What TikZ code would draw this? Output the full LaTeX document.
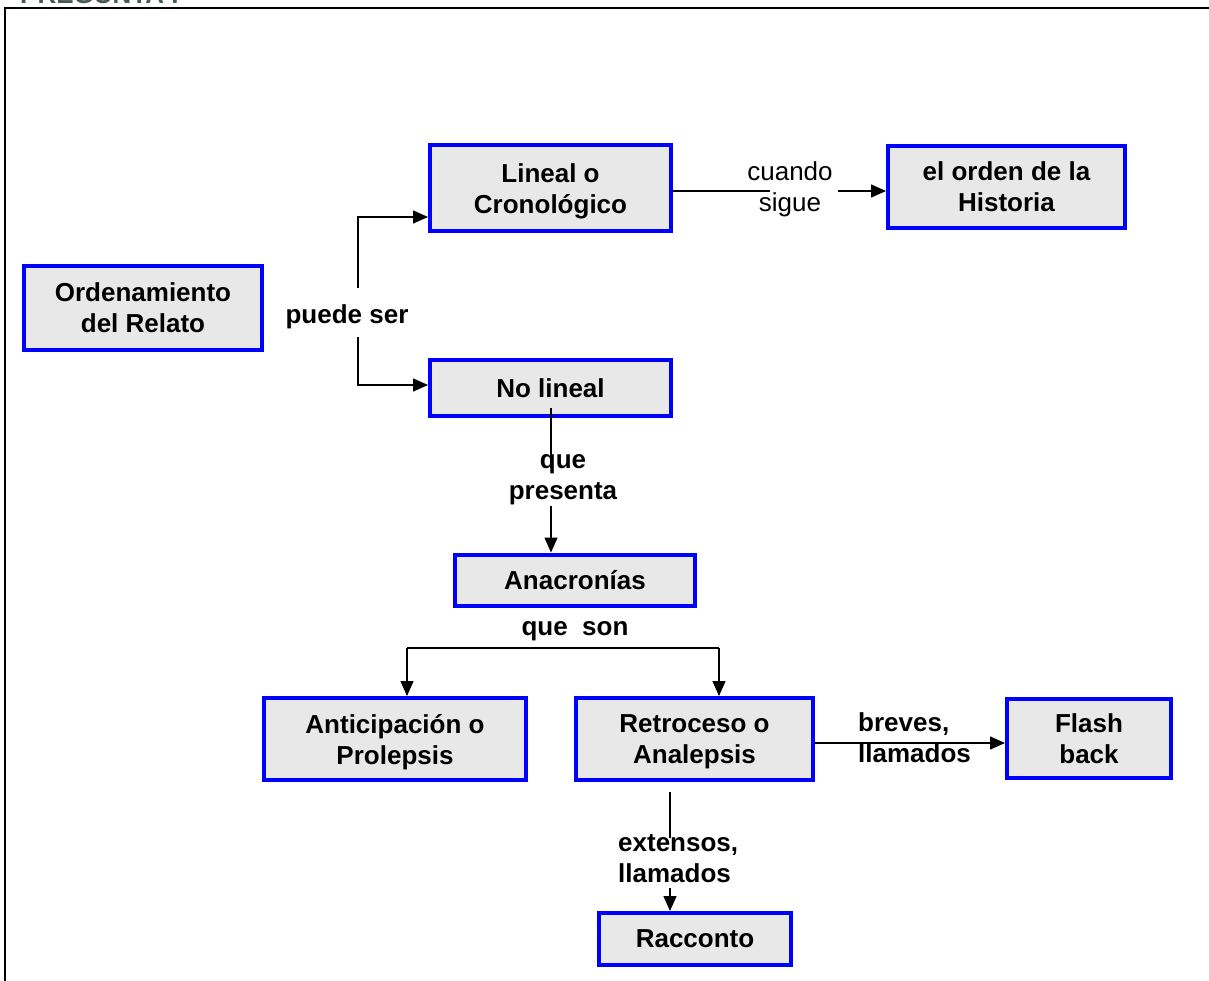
\documentclass[tikz,border=0pt]{standalone}
\usepackage{fontspec}
\setmainfont{Liberation Sans}
\usetikzlibrary{arrows.meta}
\definecolor{boxgray}{RGB}{232,232,232}
\definecolor{boxblue}{RGB}{0,0,255}
\definecolor{titlegray}{RGB}{70,90,90}
\begin{document}
\begin{tikzpicture}[x=1pt,y=-1pt,
  box/.style={draw=boxblue, line width=4pt, fill=boxgray, align=center,
    font=\fontsize{26}{31}\selectfont\bfseries, inner sep=0pt},
  lbl/.style={align=center, font=\fontsize{26}{31}\selectfont\bfseries, inner sep=0pt},
  lblreg/.style={align=center, font=\fontsize{26}{31}\selectfont, inner sep=0pt},
  conn/.style={line width=1.5pt},
  arr/.style={conn, -{Triangle[length=15pt,width=13pt]}}]
\useasboundingbox (0,0) rectangle (1209,981);
\clip (0,0) rectangle (1209,981);
\fill[white] (0,0) rectangle (1209,981);

% frame and cut title
\draw[line width=2pt] (5,995) -- (5,8) -- (1220,8);
\node[anchor=base west, inner sep=0pt, text=titlegray,
  font=\fontsize{26}{31}\selectfont\bfseries] (preg) at (20,4) {PREGUNTA I};

% boxes
\node[box, minimum width=238pt, minimum height=84pt] (orden) at (143,308) {Ordenamiento\\del Relato};
\node[box, minimum width=241pt, minimum height=86pt, text depth=0pt] (lineal) at (550.5,188.5) {Lineal o\\Cronológico};
\node[box, minimum width=237pt, minimum height=82pt] (hist) at (1006.5,187) {el orden de la\\Historia};
\node[box, minimum width=241pt, minimum height=56pt] (nolin) at (550.5,388) {No lineal};
\node[box, minimum width=240pt, minimum height=51pt] (anac) at (575,580) {Anacronías};
\node[box, minimum width=262pt, minimum height=82pt, text depth=0pt] (antic) at (395,739) {Anticipación o\\Prolepsis};
\node[box, minimum width=237pt, minimum height=82pt, text depth=0pt] (retro) at (694.5,739) {Retroceso o\\Analepsis};
\node[box, minimum width=164pt, minimum height=79pt] (flash) at (1089,738.5) {Flash\\back};
\node[box, minimum width=192pt, minimum height=52pt] (racc) at (695,939) {Racconto};

% labels
\node[lbl] (puede) at (347,317) {puede ser};
\node[lblreg] (cuando) at (790,189) {cuando\\sigue};
\node[lbl] (presenta) at (563,480) {que\\presenta};
\node[lbl] (son) at (575,631) {que\ \ son};

% puede ser -> Lineal / No lineal
\coordinate (psup) at (358,288);
\coordinate (psdn) at (358,337);
\draw[arr] (psup) |- (lineal.west |- 0,217);
\draw[arr] (psdn) |- (nolin.west |- 0,385);

% Lineal -> Historia
\coordinate (cs1) at (770,191);
\coordinate (cs2) at (838,191);
\draw[conn] (lineal.east |- cs1) -- (cs1);
\draw[arr] (cs2) -- (hist.west |- cs2);

% No lineal -> Anacronias
\coordinate (np1) at (551,408);
\coordinate (np2) at (551,468);
\coordinate (np3) at (551,506);
\draw[conn] (np1) -- (np2);
\draw[arr] (np3) -- (np3 |- anac.north);

% que son -> two branches
\coordinate (bl) at (407,648);
\coordinate (br) at (719,648);
\draw[conn] (bl) -- (br);
\draw[arr] (bl) -- (bl |- antic.north);
\draw[arr] (br) -- (br |- retro.north);

% Retroceso -> Flash back
\coordinate (fb) at (815,743);
\draw[arr] (fb) -- (flash.west |- fb);
\node[lbl, align=left, anchor=west] (breves) at (858,738) {breves,\\llamados};

% Retroceso -> Racconto
\coordinate (rc1) at (670,792);
\coordinate (rc2) at (670,838);
\coordinate (rc3) at (670,888);
\draw[conn] (rc1) -- (rc2);
\draw[arr] (rc3) -- (rc3 |- racc.north);
\node[lbl, align=left, anchor=west] (extensos) at (618,859) {extensos,\\llamados};
\end{tikzpicture}
\end{document}
